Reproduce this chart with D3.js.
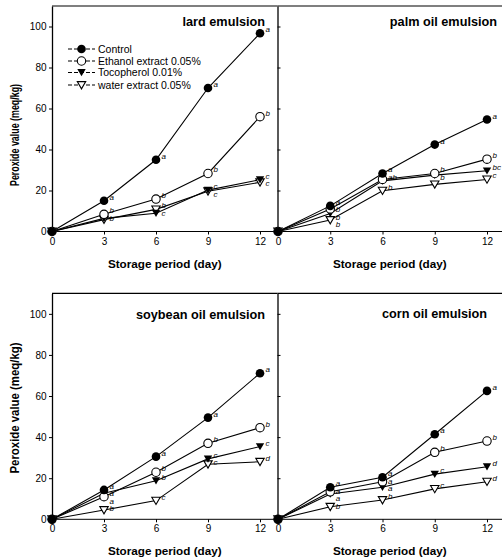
<!DOCTYPE html>
<html><head><meta charset="utf-8">
<script src="https://cdn.jsdelivr.net/npm/d3@7"></script>
<style>
body{margin:0;background:#fff;}
svg{display:block;font-family:"Liberation Sans",Arial,Helvetica,sans-serif;}
</style></head>
<body><svg id="chart" width="502" height="560"></svg>
<script>
// ---------------- data ----------------
const days = [0, 3, 6, 9, 12];
const seriesNames = ["Control", "Ethanol extract 0.05%", "Tocopherol 0.01%", "water extract 0.05%"];
const yTicks = [0, 20, 40, 60, 80, 100];
const panelTitles = ["lard emulsion", "palm oil emulsion", "soybean oil emulsion", "corn oil emulsion"];

const lardControl   = [0, 15, 35, 70, 96.7];
const lardEthanol   = [0, 8.4, 15.8, 28.3, 56];
const lardToco      = [0, 6.4, 8.9, 20.2, 25.3];
const lardWater     = [0, 5.8, 10.8, 19.6, 24];

const palmControl   = [0, 12.5, 28.3, 42.4, 54.6];
const palmEthanol   = [0, 11, 25.4, 28.3, 35.3];
const palmToco      = [0, 8.8, 24.7, 27.5, 29.6];
const palmWater     = [0, 5.6, 19.9, 23, 25.4];

const soyControl    = [0, 14.3, 30.5, 49.5, 71.1];
const soyEthanol    = [0, 11, 22.9, 37, 44.6];
const soyToco       = [0, 12.7, 18.8, 29.4, 35.4];
const soyWater      = [0, 4.5, 9.1, 26.8, 28];

const cornControl   = [0, 15.6, 20.5, 41.4, 62.5];
const cornEthanol   = [0, 13.4, 18.3, 32.6, 38.1];
const cornToco      = [0, 12.3, 15.6, 22, 25.6];
const cornWater     = [0, 6.1, 9.4, 14.8, 18.3];

const lardLetters = [["","a","a","a","a"],["","b","b","b","b"],["","b","c","c","c"],["","","b","c","c"]];
const palmLetters = [["","a","a","a","a"],["","b","","b","b"],["","b","ab","b","bc"],["","b","b","","c"]];
const soyLetters  = [["","a","a","a","a"],["","a","b","b","b"],["","a","b","c","c"],["","b","c","c","d"]];
const cornLetters = [["","a","a","a","a"],["","a","a","b","b"],["","a","a","c","d"],["","b","b","c","d"]];

// ---------------- layout ----------------
const svg = d3.select("#chart");
const panels = [
  {title: panelTitles[0], series: [lardControl, lardEthanol, lardToco, lardWater], letters: lardLetters,
   xr: [52, 260], axisX: 52, side: "left", xEnd: 277.5, yr: [231.5, 6], titleX: 265, titleY: 25.5, legend: true,
   ylabY: 135, ylabLen: 102, ylabSize: 12},
  {title: panelTitles[1], series: [palmControl, palmEthanol, palmToco, palmWater], letters: palmLetters,
   xr: [278, 487], axisX: 277.5, side: "right", xEnd: 502, yr: [231.5, 6], titleX: 497, titleY: 25.5},
  {title: panelTitles[2], series: [soyControl, soyEthanol, soyToco, soyWater], letters: soyLetters,
   xr: [52, 260], axisX: 52, side: "left", xEnd: 277.5, yr: [519.3, 293.3], titleX: 265, titleY: 319,
   ylabY: 408, ylabLen: 131, ylabSize: 12.5},
  {title: panelTitles[3], series: [cornControl, cornEthanol, cornToco, cornWater], letters: cornLetters,
   xr: [278, 487], axisX: 277.5, side: "right", xEnd: 502, yr: [519.3, 293.3], titleX: 487, titleY: 318}
];

const triDown = "M-4.2,-3.4L4.2,-3.4L0,3.8Z";
function drawMarker(g, k, cx, cy) {
  if (k === 0) g.append("circle").attr("cx", cx).attr("cy", cy).attr("r", 4.3).attr("fill", "#000");
  else if (k === 1) g.append("circle").attr("cx", cx).attr("cy", cy).attr("r", 4.2).attr("fill", "#fff").attr("stroke", "#000").attr("stroke-width", 1.1);
  else if (k === 2) g.append("path").attr("d", triDown).attr("transform", `translate(${cx},${cy})`).attr("fill", "#000");
  else g.append("path").attr("d", triDown).attr("transform", `translate(${cx},${cy})`).attr("fill", "#fff").attr("stroke", "#000").attr("stroke-width", 1.1);
}

panels.forEach(p => {
  const x = d3.scaleLinear().domain([0, 12]).range(p.xr);
  const y = d3.scaleLinear().domain([0, 110]).range(p.yr);
  const g = svg.append("g");

  g.append("line").attr("x1", p.axisX).attr("x2", p.xEnd).attr("y1", y(110)).attr("y2", y(110))
    .attr("stroke", "#000").attr("stroke-width", 1.2);
  g.append("line").attr("x1", p.axisX).attr("x2", p.xEnd).attr("y1", y(0)).attr("y2", y(0))
    .attr("stroke", "#000").attr("stroke-width", 1);

  const yAxis = (p.side === "left" ? d3.axisLeft(y) : d3.axisRight(y).tickFormat(""))
    .tickValues(yTicks).tickSize(3).tickSizeOuter(0).tickPadding(2.5);
  const ya = g.append("g").attr("transform", `translate(${p.axisX},0)`).call(yAxis);
  ya.select(".domain").attr("stroke-width", 1.3);
  ya.selectAll("text").attr("font-size", 10).attr("fill", "#000").attr("font-family", "Liberation Sans, Arial, sans-serif");

  const xAxis = d3.axisBottom(x).tickValues(days).tickSize(3).tickSizeOuter(0).tickPadding(3);
  const xa = g.append("g").attr("transform", `translate(0,${y(0)})`).call(xAxis);
  xa.select(".domain").remove();
  xa.selectAll("text").attr("font-size", 10).attr("fill", "#000").attr("font-family", "Liberation Sans, Arial, sans-serif");

  g.append("text").attr("x", (p.axisX + p.xEnd) / 2).attr("y", y(0) + 36)
    .attr("text-anchor", "middle").attr("font-size", 11.7).attr("font-weight", "bold")
    .text("Storage period (day)");

  if (p.side === "left") {
    g.append("text").attr("transform", `translate(19,${p.ylabY}) rotate(-90)`)
      .attr("text-anchor", "middle").attr("font-size", p.ylabSize).attr("font-weight", "bold")
      .attr("textLength", p.ylabLen).attr("lengthAdjust", "spacingAndGlyphs")
      .text("Peroxide value (meq/kg)");
  }

  g.append("text").attr("x", p.titleX).attr("y", p.titleY).attr("text-anchor", "end")
    .attr("font-size", 12.7).attr("font-weight", "bold").text(p.title);

  const line = d3.line().x((d, i) => x(days[i])).y(d => y(d));
  p.series.forEach(s => {
    g.append("path").datum(s).attr("d", line).attr("fill", "none").attr("stroke", "#000").attr("stroke-width", 1.1);
  });
  [3, 2, 1, 0].forEach(k => {
    p.series[k].forEach((v, i) => drawMarker(g, k, x(days[i]), y(v)));
  });

  // significance letters with simple vertical collision avoidance per day
  days.forEach((dd, i) => {
    const labs = [];
    p.series.forEach((s, k) => {
      const L = p.letters[k][i];
      if (L) labs.push({L, ty: y(s[i]) - 1});
    });
    labs.sort((a, b) => a.ty - b.ty);
    for (let j = 1; j < labs.length; j++) {
      if (labs[j].ty - labs[j - 1].ty < 7.5) labs[j].ty = labs[j - 1].ty + 7.5;
    }
    labs.forEach(l => {
      g.append("text").attr("x", x(dd) + 5.5).attr("y", l.ty)
        .attr("font-size", 8).attr("font-style", "italic").text(l.L);
    });
  });

  if (p.legend) {
    const ly = [49, 61, 72.5, 85];
    seriesNames.forEach((n, k) => {
      g.append("line").attr("x1", 68).attr("x2", 95).attr("y1", ly[k]).attr("y2", ly[k])
        .attr("stroke", "#000").attr("stroke-width", 1.1).attr("stroke-dasharray", "4,2");
      drawMarker(g, k, 81.5, ly[k]);
      g.append("text").attr("x", 98).attr("y", ly[k] + 3.8).attr("font-size", 10.5).text(n);
    });
  }
});
</script>
</body></html>
